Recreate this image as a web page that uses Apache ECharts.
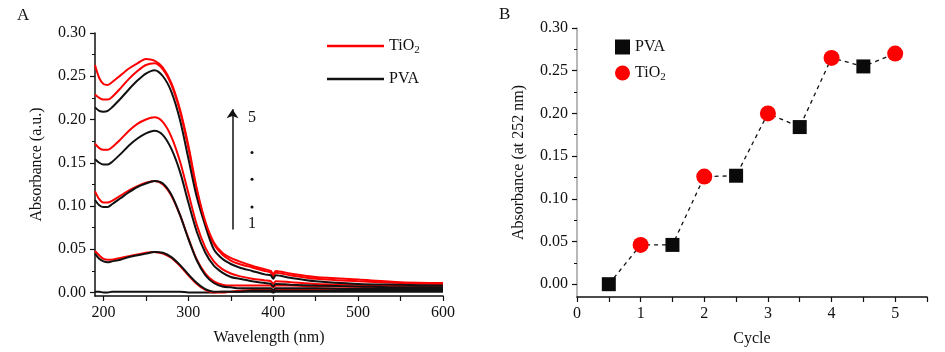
<!DOCTYPE html>
<html>
<head>
<meta charset="utf-8">
<script src="https://cdn.jsdelivr.net/npm/echarts@6/dist/echarts.min.js"></script>
<style>
  html, body { margin: 0; padding: 0; background: #fff; }
  #chart { width: 945px; height: 352px; }
</style>
</head>
<body>
<div id="chart"></div>
<script>
// Panel A: UV-vis spectra (wavelength in nm)
const wavelengths = [190, 195, 200, 205, 210, 220, 230, 240, 250, 260, 270, 280, 290, 300, 310,
  320, 330, 340, 350, 360, 375, 390, 397, 400, 403, 420, 450, 500, 550, 600];

const pva1 = [0.001, 0.001, 0.000, 0.000, 0.001, 0.001, 0.001, 0.001, 0.001, 0.001, 0.001, 0.001, 0.001, 0.000, 0.000,
  0.000, 0.000, 0.001, 0.001, 0.001, 0.001, 0.001, 0.001, 0.000, 0.001, 0.001, 0.001, 0.001, 0.001, 0.001];
const tio2_1 = [0.048, 0.043, 0.039, 0.038, 0.038, 0.040, 0.042, 0.044, 0.046, 0.047, 0.045, 0.040, 0.031, 0.020, 0.010,
  0.003, 0.000, 0.000, 0.001, 0.002, 0.003, 0.003, 0.003, 0.002, 0.004, 0.004, 0.004, 0.005, 0.005, 0.005];
const pva2 = [0.045, 0.039, 0.036, 0.035, 0.036, 0.038, 0.041, 0.043, 0.045, 0.047, 0.046, 0.041, 0.032, 0.021, 0.011,
  0.004, 0.001, 0.001, 0.001, 0.001, 0.002, 0.002, 0.002, 0.001, 0.002, 0.002, 0.002, 0.003, 0.003, 0.003];
const tio2_2 = [0.117, 0.108, 0.104, 0.104, 0.106, 0.112, 0.118, 0.123, 0.127, 0.129, 0.125, 0.112, 0.090, 0.063, 0.038,
  0.022, 0.013, 0.009, 0.008, 0.008, 0.008, 0.008, 0.008, 0.006, 0.008, 0.008, 0.007, 0.007, 0.006, 0.006];
const pva3 = [0.107, 0.101, 0.099, 0.099, 0.102, 0.109, 0.116, 0.122, 0.126, 0.129, 0.126, 0.113, 0.090, 0.062, 0.037,
  0.020, 0.011, 0.007, 0.006, 0.005, 0.005, 0.005, 0.005, 0.003, 0.005, 0.005, 0.005, 0.004, 0.004, 0.004];
const tio2_3 = [0.172, 0.167, 0.165, 0.165, 0.168, 0.177, 0.187, 0.195, 0.200, 0.2025, 0.197, 0.180, 0.152, 0.115, 0.078,
  0.052, 0.036, 0.027, 0.022, 0.019, 0.016, 0.014, 0.013, 0.010, 0.013, 0.012, 0.010, 0.009, 0.008, 0.008];
const pva4 = [0.154, 0.150, 0.148, 0.148, 0.151, 0.160, 0.170, 0.178, 0.184, 0.187, 0.182, 0.166, 0.140, 0.104, 0.070,
  0.046, 0.031, 0.023, 0.018, 0.016, 0.013, 0.011, 0.010, 0.007, 0.010, 0.009, 0.008, 0.007, 0.006, 0.006];
const tio2_4 = [0.229, 0.225, 0.223, 0.223, 0.226, 0.236, 0.247, 0.256, 0.263, 0.265, 0.258, 0.240, 0.210, 0.167, 0.117,
  0.080, 0.056, 0.044, 0.037, 0.033, 0.029, 0.025, 0.023, 0.019, 0.023, 0.020, 0.016, 0.013, 0.011, 0.010];
const pva5 = [0.214, 0.210, 0.209, 0.210, 0.214, 0.224, 0.235, 0.245, 0.253, 0.257, 0.250, 0.232, 0.200, 0.155, 0.110,
  0.077, 0.050, 0.039, 0.033, 0.029, 0.025, 0.021, 0.020, 0.016, 0.020, 0.017, 0.013, 0.010, 0.009, 0.008];
const tio2_5 = [0.263, 0.248, 0.241, 0.240, 0.243, 0.251, 0.259, 0.265, 0.270, 0.268, 0.260, 0.242, 0.212, 0.170, 0.120,
  0.082, 0.058, 0.046, 0.040, 0.036, 0.031, 0.027, 0.025, 0.021, 0.025, 0.022, 0.018, 0.015, 0.012, 0.011];

// Panel B: absorbance at 252 nm per cycle
const pvaCycles = [0.5, 1.5, 2.5, 3.5, 4.5];
const pvaAbs = [0.000, 0.046, 0.127, 0.184, 0.255];
const tio2Cycles = [1, 2, 3, 4, 5];
const tio2Abs = [0.046, 0.126, 0.200, 0.265, 0.270];

// axis ticks / labels
const aXLabels = [200, 300, 400, 500, 600];
const aXTicks = [200, 250, 300, 350, 400, 450, 500, 550, 600];
const yLabels = [0, 0.05, 0.10, 0.15, 0.20, 0.25, 0.30];
const yMinorTicks = [0.025, 0.075, 0.125, 0.175, 0.225, 0.275];
const bXLabels = [0, 1, 2, 3, 4, 5];
const bXTicks = [0, 0.5, 1, 1.5, 2, 2.5, 3, 3.5, 4, 4.5, 5, 5.5];

const FONT = '"Liberation Serif", "Times New Roman", serif';
const RED = '#ff0000';
const BLACK = '#111111';

const chart = echarts.init(document.getElementById('chart'));

const pair = (ys) => wavelengths.map((w, i) => [w, ys[i]]);

// 光谱曲线: 黑色 PVA, 红色 TiO2
const spectra = [
  ['PVA', pva1], ['TiO2', tio2_1], ['PVA', pva2], ['TiO2', tio2_2], ['PVA', pva3],
  ['TiO2', tio2_3], ['PVA', pva4], ['TiO2', tio2_4], ['PVA', pva5], ['TiO2', tio2_5]
];

const spectraSeries = spectra.map(([name, ys]) => ({
  name: name,
  type: 'line',
  xAxisIndex: 0,
  yAxisIndex: 0,
  data: pair(ys),
  smooth: 0.3,
  symbol: 'none',
  lineStyle: { width: 2, color: name === 'PVA' ? BLACK : RED },
  itemStyle: { color: name === 'PVA' ? BLACK : RED },
  emphasis: { disabled: true }
}));

// 箭头和 1...5 标注
const annotationSeries = {
  name: 'annot',
  type: 'line',
  xAxisIndex: 0,
  yAxisIndex: 0,
  data: [],
  silent: true,
  markLine: {
    silent: true,
    symbol: ['none', 'arrow'],
    symbolSize: 9,
    lineStyle: { color: BLACK, width: 1.5, type: 'solid' },
    itemStyle: { color: BLACK },
    label: { show: false },
    data: [[{ coord: [352, 0.073] }, { coord: [352, 0.212] }]]
  },
  markPoint: {
    silent: true,
    symbol: 'circle',
    symbolSize: 0,
    label: { show: true, color: BLACK, fontFamily: FONT, fontSize: 16, position: 'inside' },
    data: [
      { coord: [375, 0.202], value: '5' },
      { coord: [375, 0.162], symbolSize: 3, itemStyle: { color: BLACK }, label: { show: false } },
      { coord: [375, 0.131], symbolSize: 3, itemStyle: { color: BLACK }, label: { show: false } },
      { coord: [375, 0.099], symbolSize: 3, itemStyle: { color: BLACK }, label: { show: false } },
      { coord: [375, 0.079], value: '1' }
    ]
  }
};

// B 图虚线按周期顺序连接所有点
const allPoints = pvaCycles.map((c, i) => [c, pvaAbs[i]])
  .concat(tio2Cycles.map((c, i) => [c, tio2Abs[i]]))
  .sort((a, b) => a[0] - b[0]);

const richText = {
  n: { fontFamily: FONT, fontSize: 16, color: BLACK },
  s: { fontFamily: FONT, fontSize: 11, color: BLACK, padding: [9, 0, 0, 0] }
};
const legendFormatter = (name) => name === 'TiO2' ? '{n|TiO}{s|2}' : '{n|' + name + '}';

const axisCommon = {
  axisLine: { show: true, onZero: false, lineStyle: { color: BLACK, width: 1.5 } },
  axisTick: { show: true, length: 5, lineStyle: { color: BLACK, width: 1.2 } },
  axisLabel: { fontFamily: FONT, fontSize: 16, color: BLACK },
  splitLine: { show: false },
  nameTextStyle: { fontFamily: FONT, fontSize: 16, color: BLACK },
  nameLocation: 'middle'
};

const option = {
  animation: false,
  backgroundColor: '#fff',
  textStyle: { fontFamily: FONT },
  title: [
    { text: 'A', left: 12, top: 2, textStyle: { fontFamily: FONT, fontSize: 17, fontWeight: 'normal', color: BLACK } },
    { text: 'B', left: 494, top: 1, textStyle: { fontFamily: FONT, fontSize: 17, fontWeight: 'normal', color: BLACK } }
  ],
  grid: [
    { left: 95, top: 33, width: 348, height: 263 },
    { left: 577, top: 28, width: 350, height: 269 }
  ],
  legend: [
    {
      data: ['TiO2', 'PVA'],
      left: 322, top: 33,
      orient: 'vertical',
      icon: 'rect',
      itemWidth: 57, itemHeight: 2.5,
      itemGap: 15,
      selectedMode: false,
      formatter: legendFormatter,
      textStyle: { rich: richText }
    },
    {
      data: [
        { name: 'PVA ', icon: 'rect' },
        { name: 'TiO2 ', icon: 'circle' }
      ],
      left: 610, top: 34,
      orient: 'vertical',
      itemWidth: 15, itemHeight: 15,
      itemGap: 10,
      selectedMode: false,
      formatter: (name) => legendFormatter(name.trim()),
      textStyle: { rich: richText }
    }
  ],
  xAxis: [
    Object.assign({}, axisCommon, {
      gridIndex: 0, type: 'value', min: 190, max: 600,
      name: 'Wavelength (nm)', nameGap: 34,
      axisLabel: Object.assign({}, axisCommon.axisLabel, { customValues: aXLabels, margin: 9 }),
      axisTick: Object.assign({}, axisCommon.axisTick, { customValues: aXTicks })
    }),
    Object.assign({}, axisCommon, {
      gridIndex: 1, type: 'value', min: 0, max: 5.5,
      name: 'Cycle', nameGap: 34,
      axisLabel: Object.assign({}, axisCommon.axisLabel, { customValues: bXLabels, margin: 9 }),
      axisTick: Object.assign({}, axisCommon.axisTick, { customValues: bXTicks })
    })
  ],
  yAxis: [
    Object.assign({}, axisCommon, {
      gridIndex: 0, type: 'value', min: -0.004, max: 0.30,
      name: 'Absorbance (a.u.)', nameGap: 50,
      axisLabel: Object.assign({}, axisCommon.axisLabel, {
        customValues: yLabels, margin: 9, formatter: (v) => v.toFixed(2)
      }),
      axisTick: Object.assign({}, axisCommon.axisTick, { customValues: yLabels })
    }),
    {
      gridIndex: 0, type: 'value', min: -0.004, max: 0.30, position: 'left',
      axisLine: { show: false }, axisLabel: { show: false }, splitLine: { show: false },
      axisTick: { show: true, length: 3, customValues: yMinorTicks, lineStyle: { color: BLACK, width: 1 } }
    },
    Object.assign({}, axisCommon, {
      gridIndex: 1, type: 'value', min: -0.015, max: 0.30,
      name: 'Absorbance (at 252 nm)', nameGap: 50,
      axisLine: { show: true, onZero: false, lineStyle: { color: '#a0a0a0', width: 1.5 } },
      axisLabel: Object.assign({}, axisCommon.axisLabel, {
        customValues: yLabels, margin: 9, formatter: (v) => v.toFixed(2)
      }),
      axisTick: Object.assign({}, axisCommon.axisTick, { customValues: yLabels })
    }),
    {
      gridIndex: 1, type: 'value', min: -0.015, max: 0.30, position: 'left',
      axisLine: { show: false }, axisLabel: { show: false }, splitLine: { show: false },
      axisTick: { show: true, length: 3, customValues: yMinorTicks, lineStyle: { color: BLACK, width: 1 } }
    }
  ],
  series: spectraSeries.concat([
    annotationSeries,
    {
      name: 'dash',
      type: 'line',
      xAxisIndex: 1,
      yAxisIndex: 2,
      data: allPoints,
      symbol: 'none',
      lineStyle: { color: BLACK, width: 1.3, type: [4, 4] },
      z: 2
    },
    {
      name: 'PVA ',
      type: 'scatter',
      xAxisIndex: 1,
      yAxisIndex: 2,
      data: pvaCycles.map((c, i) => [c, pvaAbs[i]]),
      symbol: 'rect',
      symbolSize: 14,
      itemStyle: { color: '#0a0a0a', opacity: 1 },
      z: 3
    },
    {
      name: 'TiO2 ',
      type: 'scatter',
      xAxisIndex: 1,
      yAxisIndex: 2,
      data: tio2Cycles.map((c, i) => [c, tio2Abs[i]]),
      symbol: 'circle',
      symbolSize: 16,
      itemStyle: { color: RED, opacity: 1 },
      z: 3
    }
  ])
};

chart.setOption(option);
</script>
</body>
</html>
